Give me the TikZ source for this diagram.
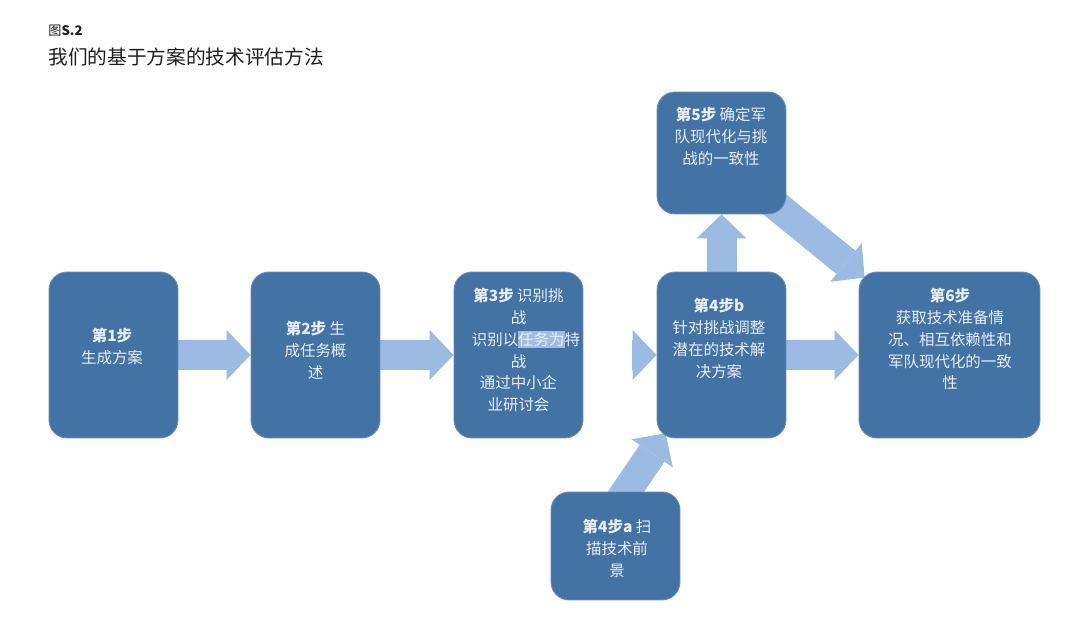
\documentclass[tikz,border=0pt]{standalone}
\usepackage{fontspec}
\setmainfont{Noto Sans CJK SC}
\usetikzlibrary{positioning,arrows.meta,calc,backgrounds}

\definecolor{boxblue}{RGB}{67,114,164}
\definecolor{boxedge}{RGB}{104,140,186}
\definecolor{arrowblue}{RGB}{155,187,227}
\definecolor{boxtext}{RGB}{232,238,246}
\definecolor{selblue}{RGB}{160,188,226}
\definecolor{titlegray}{RGB}{30,30,30}

\newcommand{\selmark}[1]{{\setlength{\fboxsep}{0pt}\colorbox{selblue}{\rule[-0.2em]{0pt}{1.1em}#1}}}

\tikzset{
  stepbox/.style={rectangle, rounded corners=0.36cm, fill=boxblue, draw=boxedge, line width=0.5pt,
    minimum width=2.58cm, minimum height=3.32cm, inner sep=0pt},
  steptext/.style={align=center, text=boxtext, inner sep=0pt, font=\fontsize{8.8pt}{12.5pt}\selectfont},
  flowarrow/.style={draw=arrowblue, line width=0.6cm, -{Triangle[length=0.48cm, width=1cm, line width=0pt]}}
}

\begin{document}
\begin{tikzpicture}[x=0.02cm, y=-0.02cm]
  \useasboundingbox (0,0) rectangle (1080,634);

  \node[anchor=west, inner sep=0pt, text=titlegray, font=\fontsize{7.5pt}{9pt}\selectfont] (fig) at (48,31) {图\textbf{S.2}};
  \node[anchor=west, inner sep=0pt, text=titlegray, font=\fontsize{11.2pt}{13pt}\selectfont] (title) at (48,57) {我们的基于方案的技术评估方法};

  \node[stepbox] (b1)  at (113.5,355) {};
  \node[stepbox] (b2)  at (315.5,355) {};
  \node[stepbox] (b3)  at (518.5,355) {};
  \node[stepbox] (b4b) at (721.5,355) {};
  \node[stepbox, minimum height=2.44cm] (b5)  at (721.5,153) {};
  \node[stepbox, minimum width=3.62cm]  (b6)  at (949.5,355) {};
  \node[stepbox, minimum height=2.16cm] (b4a) at (615.5,546) {};

  \node[steptext] (t1)  at (112,346.5) {\textbf{第1步}\\生成方案};
  \node[steptext] (t2)  at (315.5,350) {\textbf{第2步} 生\\成任务概\\述};
  \node[steptext] (t3)  at (518.5,350) {\textbf{第3步} 识别挑\\战\\\hspace*{8.5pt}识别以\selmark{任务为}特\\战\hspace*{34.6pt}\\通过中小企\\业研讨会};
  \node[steptext] (t4b) at (719,338.5) {\textbf{第4步b}\\针对挑战调整\\潜在的技术解\\决方案};
  \node[steptext] (t5)  at (721,136.5) {\textbf{第5步} 确定军\\队现代化与挑\\战的一致性};
  \node[steptext] (t6)  at (950,339) {\textbf{第6步}\\获取技术准备情\\况、相互依赖性和\\军队现代化的一致\\性};
  \node[steptext] (t4a) at (617,548.5) {\textbf{第4步a} 扫\\描技术前\\景};

  \begin{scope}[on background layer]
    \draw[flowarrow] (b1.east) -- (b2.west);
    \draw[flowarrow] (b2.east) -- (b3.west);
    \draw[flowarrow] ([xshift=-0.49cm]b4b.west) -- (b4b.west);
    \draw[flowarrow] (b4b.east) -- (b6.west);
    \draw[flowarrow] (b4b.north) -- (b5.south);
    \draw[flowarrow] ($(b5.south east)+(-19,-16)$) -- ($(b6.north west)+(6,6)$);
    \draw[flowarrow] ($(b4a.north)+(2.5,12)$) -- ($(b4b.south west)+(9,-5)$);
  \end{scope}
\end{tikzpicture}
\end{document}
